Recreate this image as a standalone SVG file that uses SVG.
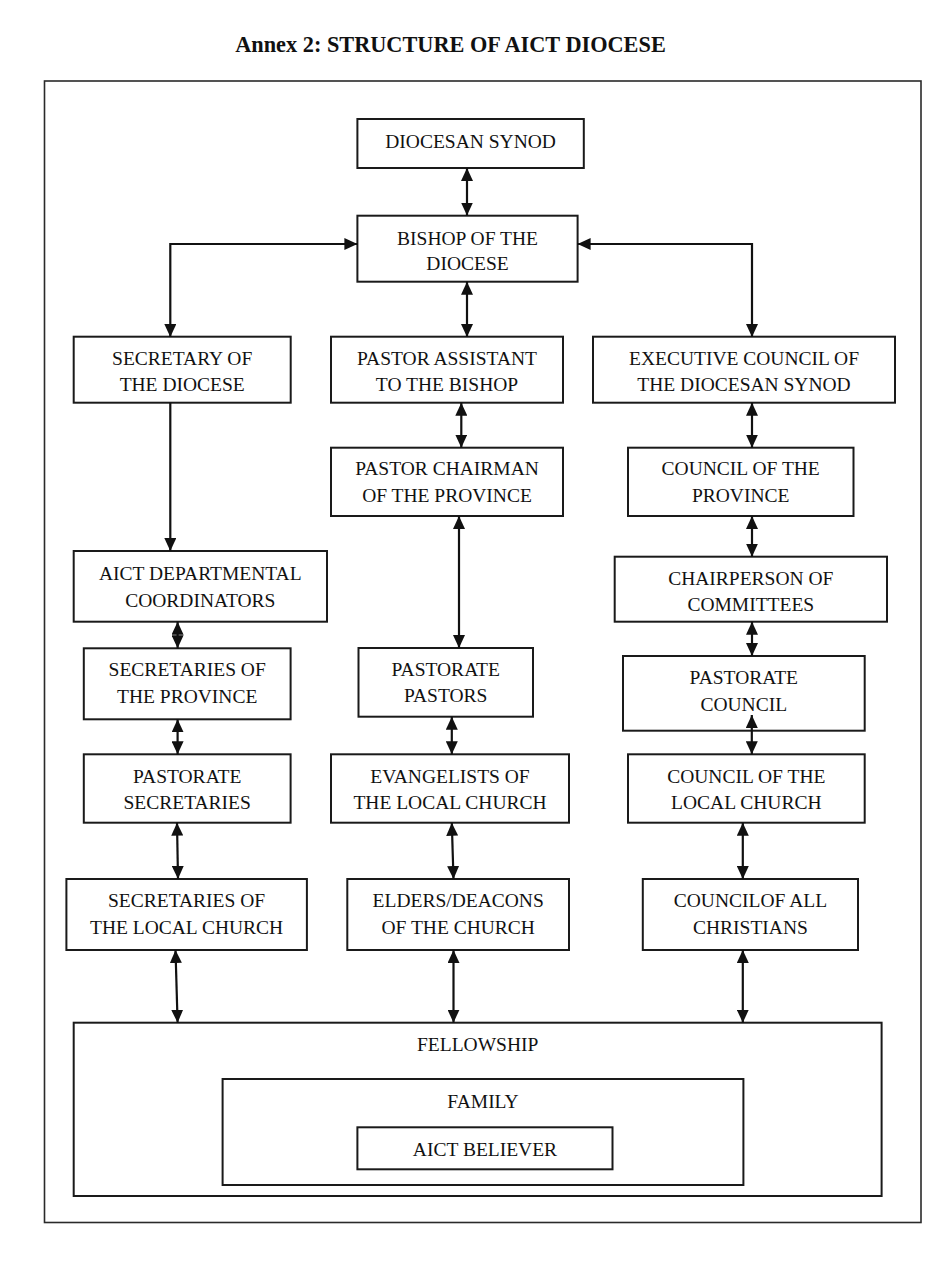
<svg xmlns="http://www.w3.org/2000/svg" width="943" height="1280" viewBox="0 0 943 1280">
<style>
.box{fill:#fff;stroke:#1a1a1a;stroke-width:2}
.frame{fill:none;stroke:#2a2a2a;stroke-width:1.6}
.t{font-family:"Liberation Serif","Times New Roman",serif;font-size:19.5px;fill:#111;text-anchor:middle}
.title{font-family:"Liberation Serif","Times New Roman",serif;font-size:22.3px;font-weight:bold;fill:#111;text-anchor:middle}
.c{fill:none;stroke:#111;stroke-width:2.2}
</style>
<defs>
<marker id="ah" markerUnits="userSpaceOnUse" markerWidth="14" markerHeight="12" refX="13" refY="6" orient="auto-start-reverse">
<path d="M0,0 L13,6 L0,12 z" fill="#111"/>
</marker>
</defs>
<rect width="943" height="1280" fill="#fff"/>
<text class="title" x="450.5" y="52">Annex 2: STRUCTURE OF AICT DIOCESE</text>
<rect class="frame" x="44.5" y="81" width="876.5" height="1141.5"/>

<g id="synod"><rect class="box" x="357.4" y="119" width="226.4" height="49"/><text class="t" x="470.6" y="148">DIOCESAN SYNOD</text></g>
<g id="bishop"><rect class="box" x="357.4" y="215.7" width="220.2" height="66"/><text class="t" x="467.5" y="245">BISHOP OF THE</text><text class="t" x="467.5" y="270">DIOCESE</text></g>
<g id="secretary"><rect class="box" x="73.7" y="336.7" width="217" height="66"/><text class="t" x="182.2" y="365">SECRETARY OF</text><text class="t" x="182.2" y="391">THE DIOCESE</text></g>
<g id="pastor-assistant"><rect class="box" x="331" y="336.7" width="232" height="66"/><text class="t" x="447" y="365">PASTOR ASSISTANT</text><text class="t" x="447" y="391">TO THE BISHOP</text></g>
<g id="executive-council"><rect class="box" x="593" y="336.7" width="302" height="66"/><text class="t" x="744" y="365">EXECUTIVE COUNCIL OF</text><text class="t" x="744" y="391">THE DIOCESAN SYNOD</text></g>
<g id="pastor-chairman"><rect class="box" x="331" y="447.7" width="232" height="68.3"/><text class="t" x="447" y="475">PASTOR CHAIRMAN</text><text class="t" x="447" y="502">OF THE PROVINCE</text></g>
<g id="council-province"><rect class="box" x="628" y="447.7" width="225.5" height="68.3"/><text class="t" x="740.7" y="475">COUNCIL OF THE</text><text class="t" x="740.7" y="502">PROVINCE</text></g>
<g id="aict-departmental"><rect class="box" x="73.7" y="551" width="253.3" height="70.7"/><text class="t" x="200.3" y="580">AICT DEPARTMENTAL</text><text class="t" x="200.3" y="607">COORDINATORS</text></g>
<g id="chairperson"><rect class="box" x="614.7" y="556.7" width="272.3" height="65"/><text class="t" x="750.8" y="585">CHAIRPERSON OF</text><text class="t" x="750.8" y="611">COMMITTEES</text></g>
<g id="secretaries-province"><rect class="box" x="83.8" y="648.3" width="206.8" height="71"/><text class="t" x="187.2" y="676">SECRETARIES OF</text><text class="t" x="187.2" y="703">THE PROVINCE</text></g>
<g id="pastorate-pastors"><rect class="box" x="358.5" y="648" width="174.5" height="68.7"/><text class="t" x="445.7" y="676">PASTORATE</text><text class="t" x="445.7" y="702">PASTORS</text></g>
<g id="pastorate-council"><rect class="box" x="623" y="656" width="241.7" height="74.7"/><text class="t" x="743.8" y="684">PASTORATE</text><text class="t" x="743.8" y="711">COUNCIL</text></g>
<g id="pastorate-secretaries"><rect class="box" x="83.8" y="754.3" width="206.8" height="68.4"/><text class="t" x="187.2" y="783">PASTORATE</text><text class="t" x="187.2" y="809">SECRETARIES</text></g>
<g id="evangelists"><rect class="box" x="331" y="754.3" width="238" height="68.4"/><text class="t" x="450" y="783">EVANGELISTS OF</text><text class="t" x="450" y="809">THE LOCAL CHURCH</text></g>
<g id="council-local"><rect class="box" x="628" y="754.3" width="236.7" height="68.4"/><text class="t" x="746.3" y="783">COUNCIL OF THE</text><text class="t" x="746.3" y="809">LOCAL CHURCH</text></g>
<g id="secretaries-local"><rect class="box" x="66.4" y="879" width="240.5" height="71"/><text class="t" x="186.6" y="907">SECRETARIES OF</text><text class="t" x="186.6" y="934">THE LOCAL CHURCH</text></g>
<g id="elders"><rect class="box" x="347.3" y="879" width="221.7" height="71"/><text class="t" x="458.2" y="907">ELDERS/DEACONS</text><text class="t" x="458.2" y="934">OF THE CHURCH</text></g>
<g id="council-all"><rect class="box" x="642.8" y="879" width="215.2" height="71"/><text class="t" x="750.4" y="907">COUNCILOF ALL</text><text class="t" x="750.4" y="934">CHRISTIANS</text></g>
<g id="fellowship"><rect class="box" x="73.7" y="1022.7" width="807.9" height="173.3"/><text class="t" x="477.7" y="1051">FELLOWSHIP</text></g>
<g id="family"><rect class="box" x="222.6" y="1079" width="520.8" height="106"/><text class="t" x="483" y="1108">FAMILY</text></g>
<g id="believer"><rect class="box" x="357.4" y="1127.3" width="255.1" height="42"/><text class="t" x="485" y="1156">AICT BELIEVER</text></g>

<g id="connectors">
<line class="c" x1="467" y1="168" x2="467" y2="215.5" marker-start="url(#ah)" marker-end="url(#ah)"/>
<path class="c" d="M170.3,337 V244 H357.4" marker-start="url(#ah)" marker-end="url(#ah)"/>
<path class="c" d="M752,337 V244 H577.6" marker-start="url(#ah)" marker-end="url(#ah)"/>
<line class="c" x1="467" y1="281.7" x2="467" y2="337" marker-start="url(#ah)" marker-end="url(#ah)"/>
<line class="c" x1="170.3" y1="402.7" x2="170.3" y2="551" marker-end="url(#ah)"/>
<line class="c" x1="461.3" y1="402.7" x2="461.3" y2="447.7" marker-start="url(#ah)" marker-end="url(#ah)"/>
<line class="c" x1="752" y1="402.7" x2="752" y2="447.7" marker-start="url(#ah)" marker-end="url(#ah)"/>
<line class="c" x1="459" y1="516" x2="459" y2="648" marker-start="url(#ah)" marker-end="url(#ah)"/>
<line class="c" x1="752" y1="516" x2="752" y2="556.7" marker-start="url(#ah)" marker-end="url(#ah)"/>
<line class="c" x1="177.6" y1="621.7" x2="177.6" y2="648.3" marker-start="url(#ah)" marker-end="url(#ah)"/>
<line class="c" x1="752" y1="621.7" x2="752" y2="656" marker-start="url(#ah)" marker-end="url(#ah)"/>
<line class="c" x1="177.6" y1="719.3" x2="177.6" y2="754.3" marker-start="url(#ah)" marker-end="url(#ah)"/>
<line class="c" x1="451.8" y1="716.7" x2="451.8" y2="754.3" marker-start="url(#ah)" marker-end="url(#ah)"/>
<line class="c" x1="751.8" y1="715" x2="751.8" y2="754.3" marker-start="url(#ah)" marker-end="url(#ah)"/>
<line class="c" x1="177" y1="822.7" x2="178" y2="879" marker-start="url(#ah)" marker-end="url(#ah)"/>
<line class="c" x1="451.8" y1="822.7" x2="453.5" y2="879" marker-start="url(#ah)" marker-end="url(#ah)"/>
<line class="c" x1="742.8" y1="822.7" x2="742.8" y2="879" marker-start="url(#ah)" marker-end="url(#ah)"/>
<line class="c" x1="175.5" y1="950" x2="177.6" y2="1022.7" marker-start="url(#ah)" marker-end="url(#ah)"/>
<line class="c" x1="453.5" y1="950" x2="453.5" y2="1022.7" marker-start="url(#ah)" marker-end="url(#ah)"/>
<line class="c" x1="742.8" y1="950" x2="742.8" y2="1022.7" marker-start="url(#ah)" marker-end="url(#ah)"/>
</g>
</svg>
